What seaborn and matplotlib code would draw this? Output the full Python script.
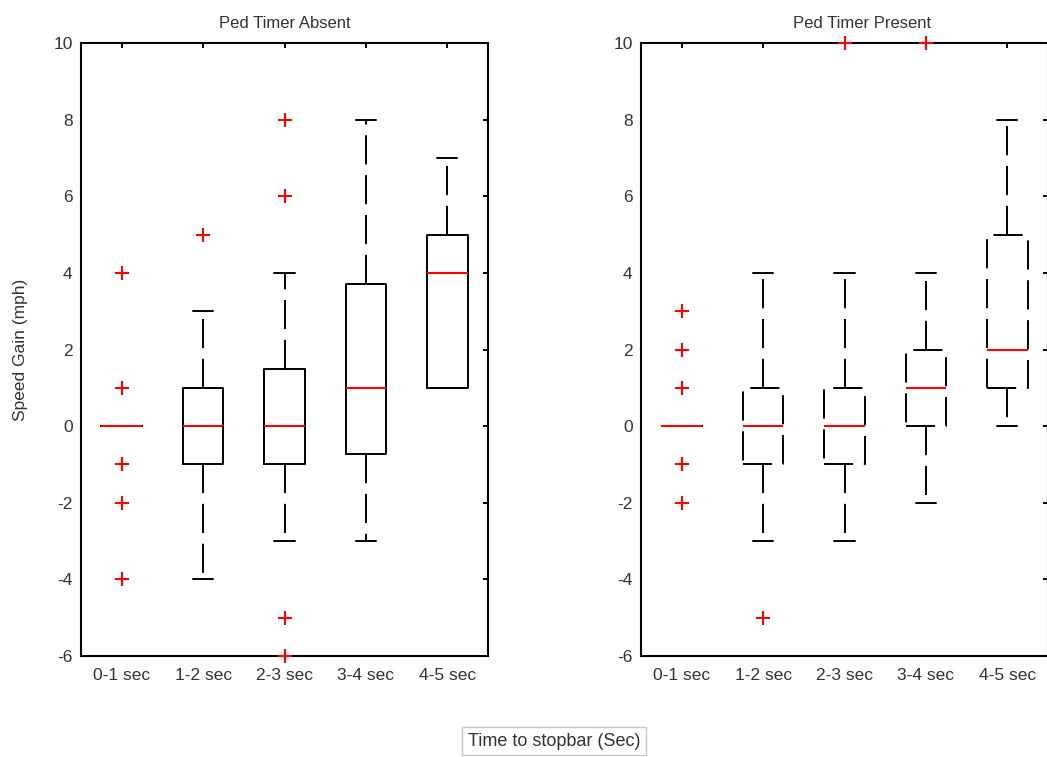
import matplotlib
matplotlib.use("Agg")
import matplotlib.pyplot as plt
import seaborn as sns
import pandas as pd

# ---------------- data ----------------
categories = ["0-1 sec", "1-2 sec", "2-3 sec", "3-4 sec", "4-5 sec"]

absent_q1 = [0, -1, -1, -0.73, 1]
absent_med = [0, 0, 0, 1, 4]
absent_q3 = [0, 1, 1.5, 3.72, 5]
absent_lo = [0, -4, -3, -3, 1]
absent_hi = [0, 3, 4, 8, 7]
absent_out = [[4, 1, -1, -2, -4], [5], [8, 6, -5, -6], [], []]

present_q1 = [0, -1, -1, 0, 1]
present_med = [0, 0, 0, 1, 2]
present_q3 = [0, 1, 1, 2, 5]
present_lo = [0, -3, -3, -2, 0]
present_hi = [0, 4, 4, 4, 8]
present_out = [[3, 2, 1, -1, -2], [-5], [10], [10], []]

titles = ["Ped Timer Absent", "Ped Timer Present"]
ylabel = "Speed Gain (mph)"
xlabel = "Time to stopbar (Sec)"
yticks = [-6, -4, -2, 0, 2, 4, 6, 8, 10]

# ---------------- style ----------------
sns.set_style("white")
plt.rcParams["font.family"] = ["Liberation Sans", "DejaVu Sans"]
plt.rcParams["axes.unicode_minus"] = False
TXT = "#333333"
DASH = (0, (15, 5.5))

fig = plt.figure(figsize=(10.47, 7.57), dpi=100)
W, H = 1047, 757
bottom = 1 - 656 / H
height = (656 - 43) / H
axw = 407 / W
ax1 = fig.add_axes([81 / W, bottom, axw, height])
ax2 = fig.add_axes([641 / W, bottom, axw, height])


def draw(ax, q1, med, q3, lo, hi, outs, title, dashed_box, title_x):
    stats = []
    for i, c in enumerate(categories):
        stats.append(dict(label=c, q1=q1[i], med=med[i], q3=q3[i],
                          whislo=lo[i], whishi=hi[i], fliers=[]))
    positions = list(range(1, len(categories) + 1))
    lw = 1.4
    boxprops = dict(color="black", linewidth=lw,
                    linestyle=DASH if dashed_box else "-")
    ax.bxp(stats, positions=positions, widths=0.5, showfliers=False,
           boxprops=boxprops,
           whiskerprops=dict(color="black", linewidth=lw, linestyle=DASH),
           capprops=dict(color="black", linewidth=lw),
           medianprops=dict(color="red", linewidth=1.5),
           capwidths=0.25, manage_ticks=False)
    rows = [(positions[i], v) for i, vals in enumerate(outs) for v in vals]
    df = pd.DataFrame(rows, columns=["pos", "val"])
    sns.scatterplot(data=df, x="pos", y="val", ax=ax, marker="+", color="red",
                    s=110, linewidth=1.5, clip_on=False, zorder=5, legend=False)
    ax.set_xlim(0.5, 5.5)
    ax.set_ylim(-6, 10)
    ax.set_xticks(positions)
    ax.set_xticklabels(categories)
    ax.set_yticks(yticks)
    ax.set_xlabel("")
    ax.set_ylabel("")
    ax.tick_params(direction="in", top=True, right=True, length=3.5, width=1.4,
                   colors="black", labelcolor=TXT, labelsize=12.5)
    ax.tick_params(axis="x", pad=9)
    ax.tick_params(axis="y", pad=6)
    for sp in ax.spines.values():
        sp.set_color("black")
        sp.set_linewidth(1.5)
        sp.set_visible(True)
    ax.set_title(title, fontsize=12, color=TXT, pad=11, x=title_x)


draw(ax1, absent_q1, absent_med, absent_q3, absent_lo, absent_hi, absent_out,
     titles[0], False, 0.5)
draw(ax2, present_q1, present_med, present_q3, present_lo, present_hi,
     present_out, titles[1], True, 0.543)

ax1.set_ylabel(ylabel, fontsize=12.5, color=TXT, labelpad=18)

fig.text(554 / W, 1 - 741 / H, xlabel, ha="center", va="center", fontsize=13,
         color=TXT,
         bbox=dict(boxstyle="square,pad=0.3", facecolor="white",
                   edgecolor="#c8c8c8", linewidth=1))

fig.savefig("out.png", dpi=100)
